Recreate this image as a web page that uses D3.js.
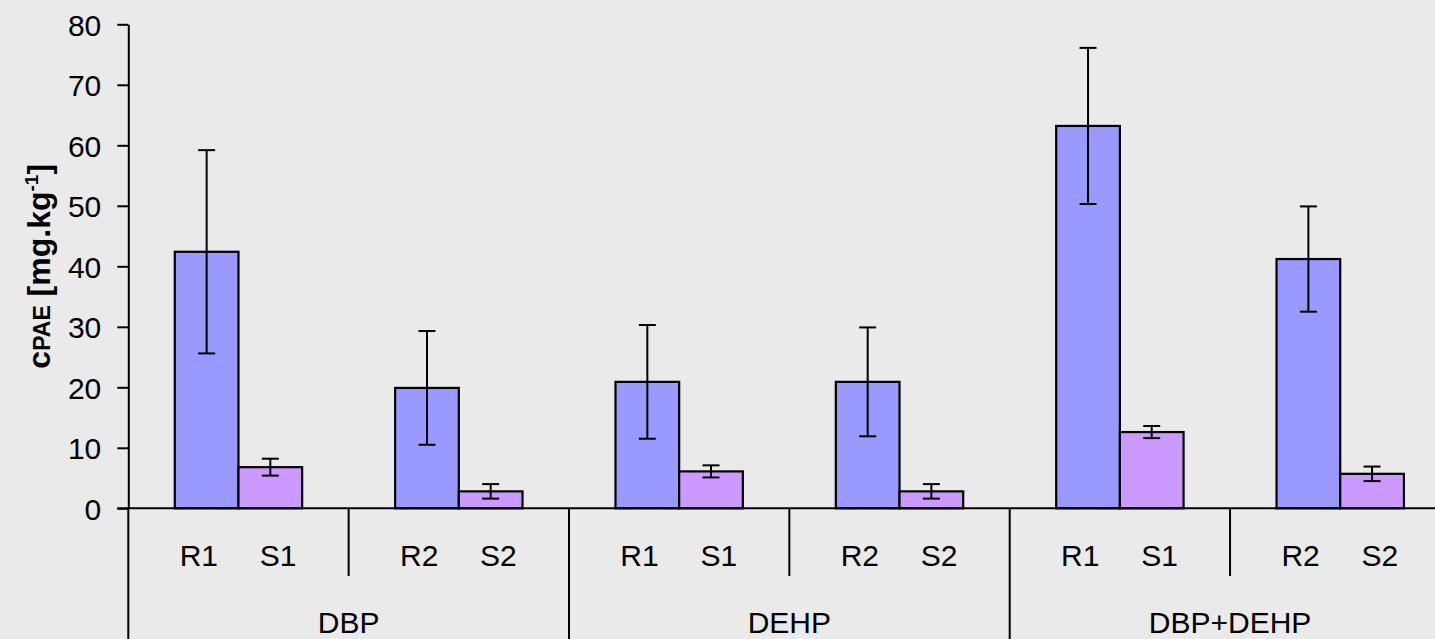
<!DOCTYPE html>
<html>
<head>
<meta charset="utf-8">
<script src="https://cdn.jsdelivr.net/npm/d3@7"></script>
<style>
  html, body { margin: 0; padding: 0; background: #eaeaea; }
  svg { display: block; overflow: hidden; }
  text { font-family: "Liberation Sans", Arial, sans-serif; fill: #000; }
</style>
</head>
<body>
<svg id="chart"></svg>
<script>
/* Data */
const groups = ["DBP", "DEHP", "DBP+DEHP"];
const pairLabels = [["R1", "S1"], ["R2", "S2"], ["R1", "S1"], ["R2", "S2"], ["R1", "S1"], ["R2", "S2"]];
const rValues = [42.4, 19.9, 20.9, 20.9, 63.2, 41.2];
const rErrors = [16.8, 9.4, 9.4, 9.0, 12.9, 8.7];
const sValues = [6.8, 2.8, 6.1, 2.8, 12.6, 5.7];
const sErrors = [1.4, 1.2, 1.0, 1.2, 1.0, 1.2];
const yTicks = [0, 10, 20, 30, 40, 50, 60, 70, 80];

/* Dimensions */
const width = 1435, height = 639;
const margin = { top: 24.3, left: 128.3 };
const plotBottom = 508.3;
const pairWidth = 220.35;

const svg = d3.select("#chart").attr("width", width).attr("height", height);

/* Scales */
const xPair = d3.scaleBand()
    .domain(d3.range(pairLabels.length))
    .range([margin.left, margin.left + pairWidth * pairLabels.length])
    .padding(0);

const xBar = d3.scaleBand()
    .domain(["R", "S"])
    .range([0, xPair.bandwidth()])
    .paddingInner(0)
    .paddingOuter(0.73);

const xLabel = d3.scalePoint()
    .domain(["R", "S"])
    .range([0, xPair.bandwidth()])
    .padding(0.89);

const y = d3.scaleLinear().domain([0, 80]).range([plotBottom, margin.top]);

const colors = { R: "#9999ff", S: "#cc99ff" };

/* Rows for bars */
const rows = [];
pairLabels.forEach((p, i) => {
    rows.push({ pair: i, key: "R", value: rValues[i], err: rErrors[i] });
    rows.push({ pair: i, key: "S", value: sValues[i], err: sErrors[i] });
});

/* Bars */
svg.append("g").selectAll("rect")
    .data(rows)
    .join("rect")
      .attr("x", d => xPair(d.pair) + xBar(d.key))
      .attr("y", d => y(d.value))
      .attr("width", xBar.bandwidth())
      .attr("height", d => y(0) - y(d.value))
      .attr("fill", d => colors[d.key])
      .attr("stroke", "#000")
      .attr("stroke-width", 2.2);

/* Error bars */
const errG = svg.append("g").attr("stroke", "#000").attr("stroke-width", 2);
const cx = d => xPair(d.pair) + xBar(d.key) + xBar.bandwidth() / 2;
errG.selectAll(".stem").data(rows).join("line")
    .attr("x1", cx).attr("x2", cx)
    .attr("y1", d => y(d.value + d.err)).attr("y2", d => y(d.value - d.err));
errG.selectAll(".capTop").data(rows).join("line")
    .attr("x1", d => cx(d) - 8.5).attr("x2", d => cx(d) + 8.5)
    .attr("y1", d => y(d.value + d.err)).attr("y2", d => y(d.value + d.err));
errG.selectAll(".capBot").data(rows).join("line")
    .attr("x1", d => cx(d) - 8.5).attr("x2", d => cx(d) + 8.5)
    .attr("y1", d => y(d.value - d.err)).attr("y2", d => y(d.value - d.err));

/* Y axis */
const yAxis = svg.append("g")
    .attr("transform", `translate(${margin.left},0)`)
    .call(d3.axisLeft(y).tickValues(yTicks).tickSize(11).tickPadding(16).tickSizeOuter(0));
yAxis.select(".domain").attr("stroke-width", 2);
yAxis.selectAll(".tick line").attr("stroke-width", 2);
yAxis.selectAll(".tick text").style("font-size", "30px").attr("dy", "0.36em")
    .style("font-family", "'Liberation Sans', Arial, sans-serif");

/* X baseline */
svg.append("line")
    .attr("x1", margin.left - 11).attr("x2", width)
    .attr("y1", y(0)).attr("y2", y(0))
    .attr("stroke", "#000").attr("stroke-width", 2);

/* Category dividers */
const divG = svg.append("g").attr("stroke", "#000").attr("stroke-width", 2);
d3.range(pairLabels.length).forEach(i => {
    const major = i % 2 === 0;
    divG.append("line")
        .attr("x1", xPair(i)).attr("x2", xPair(i))
        .attr("y1", y(0)).attr("y2", major ? height : 576);
});

/* Sub-category labels */
const subG = svg.append("g").style("font-size", "30px").attr("text-anchor", "middle");
pairLabels.forEach((p, i) => {
    ["R", "S"].forEach((k, j) => {
        subG.append("text")
            .attr("x", xPair(i) + xLabel(k))
            .attr("y", 566)
            .text(p[j]);
    });
});

/* Group labels */
svg.append("g").style("font-size", "30px").attr("text-anchor", "middle")
    .selectAll("text").data(groups).join("text")
      .attr("x", (d, i) => xPair(i * 2) + pairWidth)
      .attr("y", 633)
      .text(d => d);

/* Y axis title */
const title = svg.append("text")
    .attr("transform", `translate(50, ${(y(0) + y(80)) / 2}) rotate(-90)`)
    .attr("text-anchor", "middle")
    .style("font-weight", "bold")
    .style("font-size", "32px");
title.append("tspan").text("c");
title.append("tspan").style("font-size", "23px").text("PAE");
title.append("tspan").text(" [mg.kg");
title.append("tspan").style("font-size", "19px").attr("dy", "-12").text("-1");
title.append("tspan").attr("dy", "12").text("]");
</script>
</body>
</html>
